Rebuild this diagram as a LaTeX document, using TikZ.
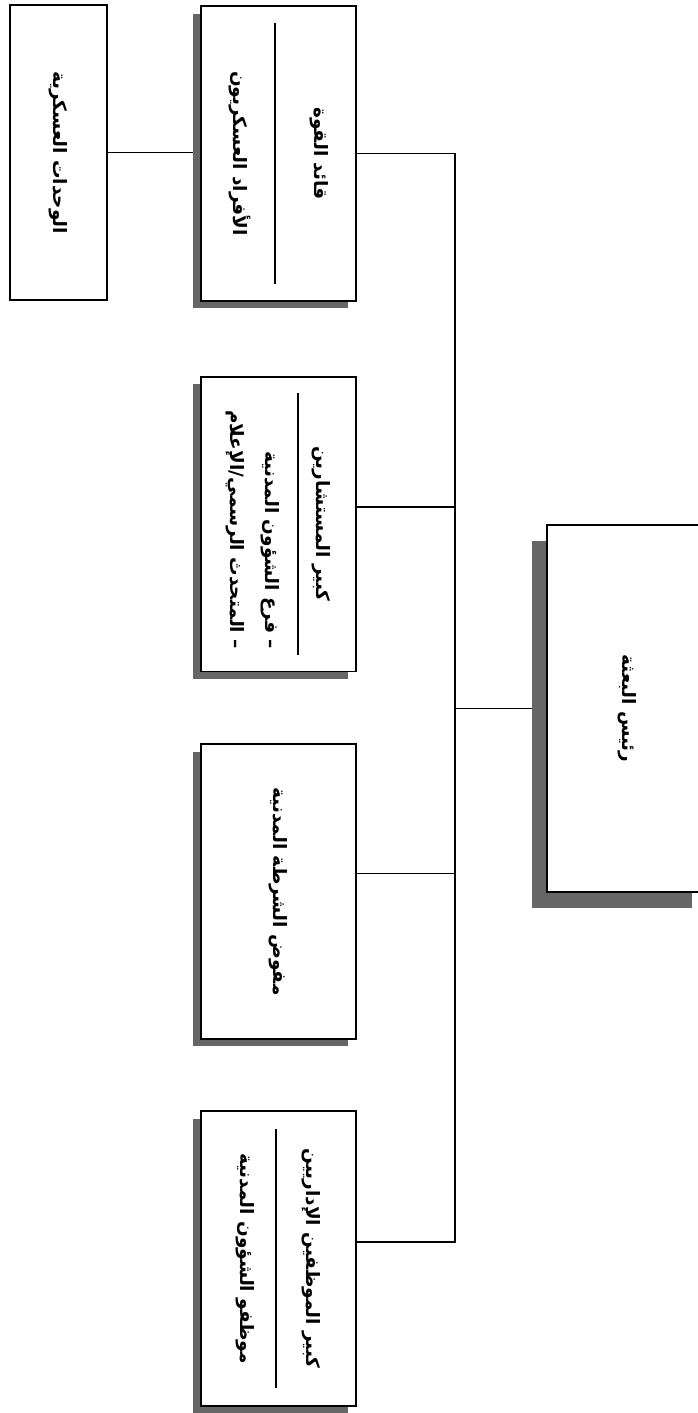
\documentclass[tikz,border=0pt]{standalone}
\usepackage{fontspec}
\newfontfamily\arabicfont[Script=Arabic]{DejaVu Sans}
\TeXXeTstate=1
\usetikzlibrary{shadows,backgrounds}
\newcommand{\rtl}[1]{\beginR #1\endR}

\begin{document}
\begin{tikzpicture}[x=0.02cm, y=-0.02cm,
    every node/.style={font=\arabicfont\bfseries\fontsize{10.5}{18}\selectfont,
      execute at begin node={\lineskiplimit=-100pt\relax}},
    unit/.style={draw, line width=1.1pt, fill=white, rotate=-90, inner sep=0pt, align=center},
    post/.style={unit, minimum width=5.9cm, minimum height=3.1cm,
      drop shadow={shadow xshift=-0.16cm, shadow yshift=-0.15cm, fill=black!60, opacity=1}},
    chief/.style={unit, minimum width=7.34cm, minimum height=3.2cm,
      drop shadow={shadow xshift=-0.3cm, shadow yshift=-0.32cm, fill=black!60, opacity=1}},
    link/.style={line width=0.6pt}]
    \useasboundingbox (0,0) rectangle (697,1413);

    % mission head and the staff under it
    \node[chief] (head) at (627,708.5) {\rtl{رئيس البعثة}};
    \node[post] (force) at (278.5,153.5) {\rtl{قائد القوة}\\[5pt]\rule{5.24cm}{1.1pt}\\[5pt]\rtl{الأفراد العسكريون}};
    \node[post] (advisers) at (278.5,524) {\rtl{كبير المستشارين}\\[-6.5pt]\rule{5.24cm}{1.1pt}\\[-0.5pt]
      \parbox[t]{5cm}{\raggedleft\rtl{– فرع الشؤون المدنية}\\[2pt]\rtl{– المتحدث الرسمي/الإعلام}}};
    \node[post] (police) at (278.5,891.5) {\rtl{مفوض الشرطة المدنية}};
    \node[post] (admin) at (278.5,1258.5) {\rtl{كبير الموظفين الإداريين}\\[0pt]\rule{5.2cm}{1.1pt}\\[1.5pt]\rtl{موظفو الشؤون المدنية}};
    \node[unit, minimum width=5.9cm, minimum height=1.94cm] (units) at (58.5,152.5) {\rtl{الوحدات العسكرية}};

    \coordinate (bus) at (455,708.5);

    \begin{scope}[on background layer]
      \draw[link] (head.south) -- (bus);
      \draw[link] (force.north) -| (bus);
      \draw[link] ([yshift=0.33cm]admin.north) -| (bus);
      \draw[link] ([yshift=0.34cm]advisers.north) -- ([yshift=0.34cm]advisers.north -| bus);
      \draw[link] ([yshift=0.36cm]police.north) -- ([yshift=0.36cm]police.north -| bus);
      \draw[link] (units.north) -- (units.north -| force.south);
    \end{scope}
\end{tikzpicture}
\end{document}
